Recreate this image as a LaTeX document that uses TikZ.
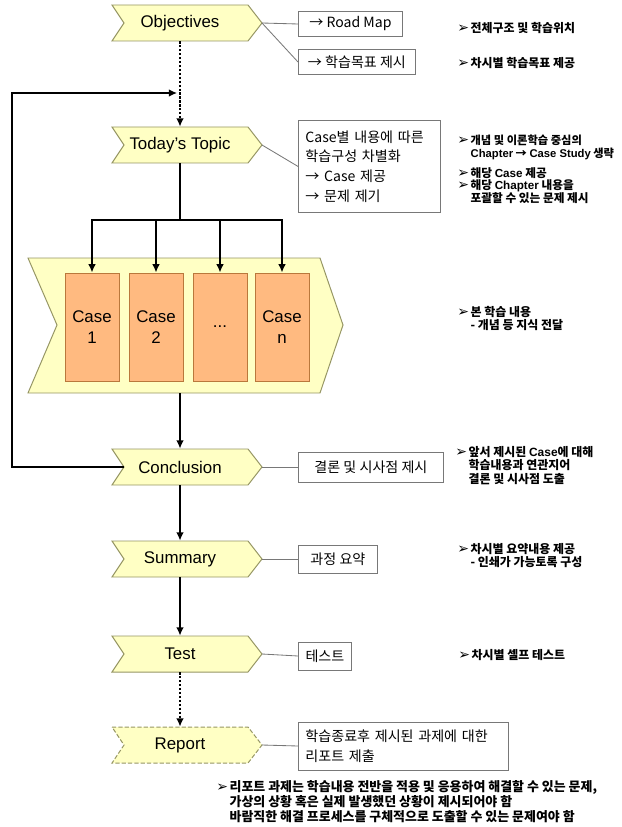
\documentclass[tikz,border=0pt]{standalone}
\usepackage{fontspec}
\setmainfont{Liberation Sans}
\newfontfamily\kr{Noto Sans CJK KR}
\newfontfamily\sym{DejaVu Sans}
\usetikzlibrary{arrows.meta}
\definecolor{chevfill}{RGB}{255,255,196}
\definecolor{chevline}{RGB}{150,150,100}
\definecolor{casefill}{RGB}{255,186,128}
\definecolor{caseline}{RGB}{185,120,60}
\definecolor{boxline}{RGB}{120,120,120}
\newcommand\bul{\makebox[9.5pt][l]{\sym\fontsize{10}{8}\selectfont ➢}}
\newcommand\ind{\hspace*{9.5pt}}
\newcommand\lat[1]{{\rmfamily #1}}
\begin{document}
\begin{tikzpicture}[x=0.025cm, y=-0.025cm,
    chev/.style={draw=chevline, fill=chevfill, line width=0.7pt},
    chevlbl/.style={minimum width=3.4cm, minimum height=0.9cm, inner sep=0pt, font=\fontsize{12}{14}\selectfont},
    casebox/.style={draw=caseline, fill=casefill, line width=0.6pt, minimum width=1.35cm, minimum height=2.7cm, align=center, font=\fontsize{12}{14.5}\selectfont},
    infobox/.style={draw=boxline, fill=white, line width=0.6pt, anchor=west, inner xsep=5pt, font=\kr\fontsize{10}{14}\selectfont},
    link/.style={draw=boxline, line width=0.6pt},
    flow/.style={line width=1.8pt},
    tip/.style={-{Latex[length=6pt,width=5.5pt]}},
    dots/.style={dash pattern=on 1.6pt off 1.2pt},
    note/.style={anchor=north west, inner sep=0pt, align=left, font=\kr\bfseries\fontsize{8.5}{9.5}\selectfont}]

  \useasboundingbox (0,0) rectangle (622,827);

  % chevrons of the main flow
  \foreach \n/\y/\t in {obj/23/Objectives, topic/145/Today’s Topic, concl/467/Conclusion, sum/559/Summary, test/654/Test} {
    \draw[chev] (112,\y-18) -- (248,\y-18) -- (262,\y) -- (248,\y+18) -- (112,\y+18) -- (124,\y) -- cycle;
    \node[chevlbl] (\n) at (180,\y) {\t};
    \coordinate (\n-tip) at (262,\y);
  }
  \draw[chev, dash pattern=on 3pt off 1.5pt] (112,727) -- (248,727) -- (262,745) -- (248,763) -- (112,763) -- (124,745) -- cycle;
  \node[chevlbl] (report) at (180,745) {Report};
  \coordinate (report-tip) at (262,745);
  \coordinate (concl-in) at (124,467);

  % big chevron with the cases
  \draw[chev] (28,258) -- (320,258) -- (343,325) -- (320,393) -- (28,393) -- (57,325) -- cycle;
  \node[minimum width=6cm, minimum height=3.375cm] (body) at (180,325.5) {};
  \foreach \i/\x/\t in {1/92/{Case\\1}, 2/156/{Case\\2}, 3/220/{...}, 4/282/{Case\\n}}
    \node[casebox] (case\i) at (\x,327) {\t};

  % main connectors
  \coordinate (split) at (180,220);
  \coordinate (back) at (180,93);
  \draw[flow, dots, tip] (obj) -- (topic);
  \draw[flow] (topic) -- (split);
  \draw[flow, tip] (split) -| (case1);
  \draw[flow, tip] (split) -| (case4);
  \foreach \i in {2,3}
    \draw[flow, tip] (case\i |- split) -- (case\i);
  \draw[flow, tip] (body) -- (concl);
  \draw[flow, tip] (concl) -- (sum);
  \draw[flow, tip] (sum) -- (test);
  \draw[flow, dots, tip] (test) -- (report);
  \draw[flow, tip, shorten >=2pt] (concl-in) -- ++(-112,0) |- (back);

  % boxes on the right
  \node[infobox, minimum width=2.6cm, minimum height=0.625cm] (rm) at (298,24) {→ Road Map};
  \node[infobox, minimum width=2.925cm, minimum height=0.625cm] (goal) at (298,62) {→ 학습목표 제시};
  \node[infobox, anchor=north west, text width=3.2cm, align=left, minimum height=2.3cm] (topic-box) at (298,120)
    {Case별 내용에 따른\\학습구성 차별화\\→ Case 제공\\→ 문제 제기};
  \node[infobox, minimum width=3.625cm, minimum height=0.75cm] (concl-box) at (298,467) {결론 및 시사점 제시};
  \node[infobox, minimum width=1.975cm, minimum height=0.7cm] (sum-box) at (298,559) {과정 요약};
  \node[infobox, minimum width=1.325cm, minimum height=0.7cm] (test-box) at (298,656) {테스트};
  \node[infobox, text width=4.9cm, align=left, minimum height=1.2cm] (report-box) at (298,746)
    {학습종료후 제시된 과제에 대한\\리포트 제출};

  \draw[link] (obj-tip) -- (rm.west);
  \draw[link] (obj-tip) -- (goal.west);
  \foreach \n in {topic, concl, sum, test, report}
    \draw[link] (\n-tip) -- (\n-box.west);

  % notes
  \node[note] (n-map) at (457,22) {\bul 전체구조 및 학습위치};
  \node[note] (n-goal) at (457,57) {\bul 차시별 학습목표 제공};
  \node[note, font=\kr\bfseries\fontsize{8}{9}\selectfont] (n-topic) at (457,135) {\bul 개념 및 이론학습 중심의\\\ind \lat{Chapter} → \lat{Case Study} 생략};
  \node[note, font=\kr\bfseries\fontsize{8.3}{9}\selectfont] (n-case) at (457,167) {\bul 해당 \lat{Case} 제공\\\bul 해당 \lat{Chapter} 내용을\\\ind 포괄할 수 있는 문제 제시};
  \node[note] (n-body) at (457,306) {\bul 본 학습 내용\\\ind - 개념 등 지식 전달};
  \node[note] (n-concl) at (455,446) {\bul 앞서 제시된 \lat{Case}에 대해\\\ind 학습내용과 연관지어\\\ind 결론 및 시사점 도출};
  \node[note] (n-sum) at (457,543) {\bul 차시별 요약내용 제공\\\ind - 인쇄가 가능토록 구성};
  \node[note] (n-test) at (458,649) {\bul 차시별 셀프 테스트};
  \node[note, font=\kr\bfseries\fontsize{9.2}{10.6}\selectfont] (n-report) at (216,780) {\bul 리포트 과제는 학습내용 전반을 적용 및 응용하여 해결할 수 있는 문제,\\\ind 가상의 상황 혹은 실제 발생했던 상황이 제시되어야 함\\\ind 바람직한 해결 프로세스를 구체적으로 도출할 수 있는 문제여야 함};
\end{tikzpicture}
\end{document}
